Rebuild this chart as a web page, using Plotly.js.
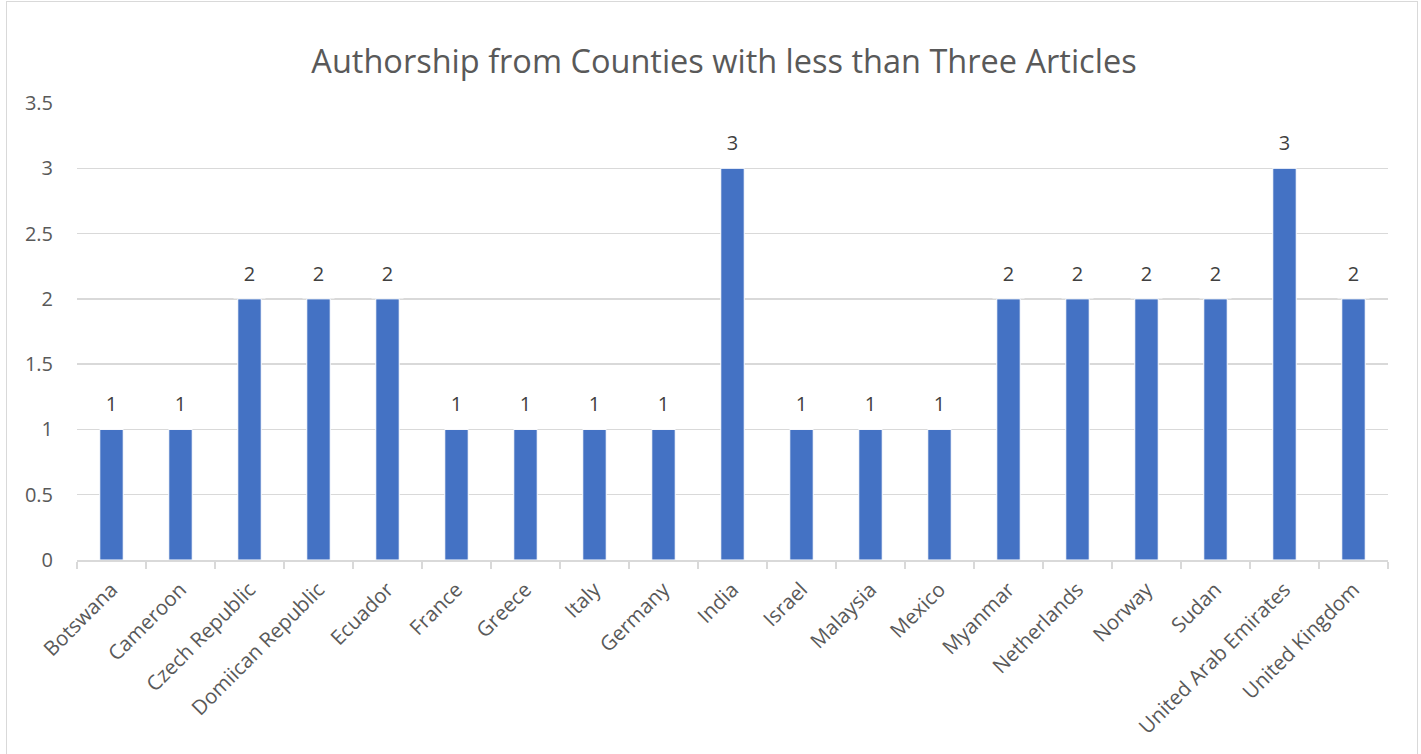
<!DOCTYPE html>
<html>
<head>
<meta charset="utf-8">
<script src="https://cdn.plot.ly/plotly-3.0.1.min.js"></script>
<style>
  html, body { margin: 0; padding: 0; background: #ffffff; }
  #wrap { position: relative; width: 1421px; height: 754px; overflow: hidden; }
  #chart { position: absolute; left: 0; top: 0; width: 1421px; height: 754px; }
  #frame { position: absolute; left: 6px; top: 1px; width: 1410px; height: 760px; border: 1px solid #d9d9d9; pointer-events: none; }
</style>
</head>
<body>
<div id="wrap">
  <div id="chart"></div>
  <div id="frame"></div>
</div>
<script>
const countries = [
  "Botswana", "Cameroon", "Czech Republic", "Domiican Republic", "Ecuador",
  "France", "Greece", "Italy", "Germany", "India", "Israel", "Malaysia",
  "Mexico", "Myanmar", "Netherlands", "Norway", "Sudan",
  "United Arab Emirates", "United Kingdom"
];
const articles = [1, 1, 2, 2, 2, 1, 1, 1, 1, 3, 1, 1, 1, 2, 2, 2, 2, 3, 2];
const yTicks = [0, 0.5, 1, 1.5, 2, 2.5, 3, 3.5];
const chartTitle = "Authorship from Counties with less than Three Articles";

const FONT = "Open Sans, Noto Sans, Liberation Sans, sans-serif";

const trace = {
  type: "bar",
  x: countries,
  y: articles,
  marker: { color: "#4472C4", line: { color: "#ffffff", width: 1 } },
  hoverinfo: "x+y"
};

const annotations = countries.map((c, i) => ({
  x: c,
  y: articles[i],
  xref: "x",
  yref: "y",
  text: String(articles[i]),
  showarrow: false,
  xanchor: "center",
  yanchor: "bottom",
  width: 31,
  height: 38,
  valign: "top",
  borderpad: 0,
  bgcolor: "#ffffff",
  font: { family: FONT, size: 20, color: "#404040" }
}));

const layout = {
  width: 1421,
  height: 754,
  paper_bgcolor: "#ffffff",
  plot_bgcolor: "#ffffff",
  margin: { l: 77, r: 33, t: 103, b: 194 },
  bargap: 0.66,
  showlegend: false,
  title: {
    text: chartTitle,
    x: 0.5095,
    xanchor: "center",
    xref: "container",
    y: 0.918,
    yanchor: "middle",
    font: { family: FONT, size: 32.5, color: "#595959" }
  },
  xaxis: {
    type: "category",
    tickangle: -45,
    tickfont: { family: FONT, size: 20.5, color: "#595959" },
    showline: true,
    linecolor: "#d9d9d9",
    linewidth: 1.5,
    ticks: "outside",
    tickson: "boundaries",
    ticklen: 7,
    tickcolor: "#d9d9d9",
    tickwidth: 1.5,
    ticklabelstandoff: 8,
    showgrid: false,
    zeroline: false,
    fixedrange: true
  },
  yaxis: {
    range: [0, 3.5],
    tickvals: yTicks,
    ticktext: yTicks.map(v => String(v)),
    tickfont: { family: FONT, size: 20, color: "#595959" },
    showline: false,
    showgrid: true,
    gridcolor: "#d9d9d9",
    gridwidth: 1.5,
    zeroline: false,
    ticks: "",
    ticklabelstandoff: 23,
    fixedrange: true
  },
  annotations: annotations
};

Plotly.newPlot("chart", [trace], layout, { displayModeBar: false, staticPlot: true });
</script>
</body>
</html>
